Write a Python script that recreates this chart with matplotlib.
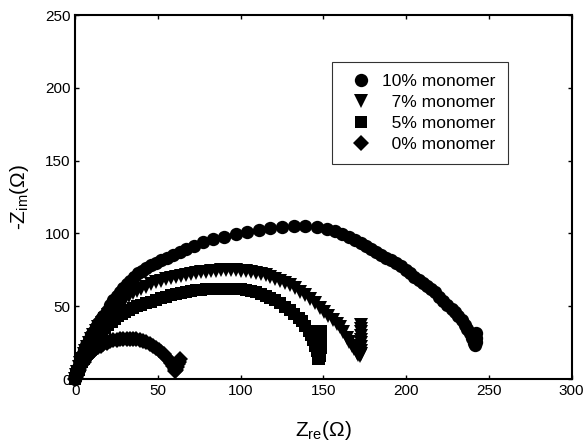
import matplotlib
matplotlib.use("Agg")
import matplotlib.pyplot as plt

plt.rcParams['font.family'] = ['Liberation Sans', 'DejaVu Sans']
plt.rcParams['mathtext.fontset'] = 'custom'
plt.rcParams['mathtext.rm'] = 'Liberation Sans'

# 10% monomer
x10 = [0, 0.5, 1, 2, 3, 4, 5, 6.5, 8, 9.5, 11, 12.5, 14, 15.5, 17, 19, 21, 23, 25, 27, 29, 31,
       33, 35.5, 38, 40.5, 43, 46, 49, 52, 55.5, 59, 63, 67, 72, 77.5, 83.5, 90, 97, 104, 111,
       118, 125, 132, 139, 146, 152, 157, 161.5, 165.5, 169, 172.5, 176, 179, 182, 185, 188,
       191, 194, 197, 200, 202.5, 205, 207.5, 210, 212.5, 215, 217.5, 220, 222.5, 225, 227.5,
       229.5, 231.5, 233.5, 235.5, 237, 238.5, 240, 241, 241.5, 242, 242.5, 242.5]
y10 = [0, 3, 6, 9.5, 13, 16.5, 20, 23.5, 27, 30, 32.5, 35.5, 38.5, 41, 43.5, 47, 50.5, 54, 57, 60,
       62.5, 65, 67.5, 70, 72.5, 74.5, 76.5, 78.5, 80, 81.5, 83.3, 85, 87, 89, 91.5, 93.8, 96,
       97.6, 99.3, 101, 102.4, 103.6, 104.5, 105.2, 105.3, 104.6, 103.3, 101.5, 99.8, 97.8,
       95.8, 93.6, 91.4, 89.4, 87.4, 85.4, 83.4, 81.4, 79.4, 77.3, 74.7, 72.5, 70.3, 68.1, 66,
       63.8, 61.7, 59.5, 56.6, 53.7, 50.9, 48, 45.7, 43.2, 40.2, 37.2, 34.5, 31.5, 28, 25,
       23.5, 25.5, 28.5, 31.5]

# 7% monomer
x7 = [0, 0.5, 1, 2, 3, 4, 5, 6, 7, 8, 9.5, 11, 12.5, 14, 16, 18, 20, 22, 24, 26, 28, 30, 32.5,
      35, 37.5, 40, 43, 46, 49, 52, 55, 58, 61, 64, 67, 70, 73, 76, 79, 82, 85, 88, 91, 94, 97,
      100, 103, 106, 109, 112, 115, 118, 121, 124, 127, 130, 133, 136, 139, 142, 145, 148,
      150.5, 153, 155.5, 158, 160, 162, 164, 165.5, 167, 168.5, 170, 171, 172, 172.5, 172.5,
      172.5, 172.5, 172.5, 172.5, 172.5, 172.5, 172.5]
y7 = [0, 2.5, 5, 8, 11, 14, 17, 19.5, 22, 24.5, 27.5, 30.5, 33, 35.5, 38.5, 41.5, 44, 46.5, 49,
      51, 53, 55, 57, 59, 60.5, 62, 63.5, 65, 66.3, 67.5, 68.5, 69.4, 70.2, 71, 71.7, 72.3,
      72.9, 73.4, 73.8, 74.2, 74.5, 74.7, 74.8, 74.8, 74.7, 74.5, 74.1, 73.6, 73, 72.2, 71.3,
      70.2, 69, 67.6, 66, 64.3, 62.3, 60, 57.5, 55, 52.2, 49, 46.2, 43.2, 40.3, 38, 35.5, 32,
      28.5, 25.5, 23, 20.5, 18, 16.5, 15.5, 17, 19.5, 22, 24.5, 27, 29.5, 32, 34.5, 37]

# 5% monomer
x5 = [0, 0.5, 1, 2, 3, 4, 5, 6, 7, 8, 9.5, 11, 12.5, 14, 16, 18, 20, 22, 24, 26, 28, 30, 32.5,
      35, 37.5, 40, 43, 46, 49, 52, 55, 58, 61, 64, 67, 70, 73, 76, 79, 82, 85, 88, 91, 94, 97,
      100, 103, 106, 109, 112, 115, 118, 121, 124, 127, 130, 132.5, 135, 137, 139, 141, 142.5,
      144, 145, 146, 146.5, 147, 147.5, 148, 148, 148.5, 148.5, 148.5, 148.5, 148.5, 148.5]
y5 = [0, 2, 4, 6.5, 9, 11.5, 14, 16, 18, 20, 22.5, 25, 27.5, 30, 32.5, 35, 37, 39, 41,
      43, 44.5, 46, 47.5, 48.8, 49.8, 50.7, 51.9, 53, 54.2, 55.5, 56.5, 57.5, 58.3, 59, 59.7,
      60.3, 60.8, 61.2, 61.5, 61.8, 62, 62.1, 62.1, 62, 61.8, 61.5, 61, 60.4, 59.6, 58.6,
      57.3, 55.8, 54, 52, 49.7, 47.2, 44.8, 42, 39.5, 36.5, 33, 30, 26.5, 23, 19.5, 16, 13.5,
      13.5, 16, 18.5, 21, 23.5, 26, 28.5, 31, 33]

# 0% monomer
x0 = [0, 0.5, 1, 1.5, 2, 3, 4, 5, 6, 7, 8, 9.5, 11, 12.5, 14, 15.5, 17, 19, 21, 23, 25, 27, 29,
      31, 33, 35, 37, 39, 41, 43, 45, 47, 49, 50.5, 52, 53.5, 55, 56.5, 58, 59, 60, 60.5, 61,
      61.5, 62, 62.5, 63]
y0 = [0, 1.5, 3, 4.5, 6, 8, 10, 12, 13.5, 15, 16.5, 18, 19.5, 21, 22, 23, 24, 25, 25.8, 26.5, 27,
      27.4, 27.7, 27.8, 27.8, 27.6, 27.3, 26.8, 26.1, 25.3, 24.3, 23, 21.5, 20.2, 18.7, 17,
      15.2, 13.2, 11, 9, 7, 5.5, 6, 8, 10, 12, 14]

labels = ['10% monomer', '\u20077% monomer', '\u20075% monomer', '\u20070% monomer']

fig = plt.figure(figsize=(5.85, 4.48), dpi=100)
ax = fig.add_axes([0.1287, 0.154, 0.8483, 0.8125])

ax.plot(x10, y10, 'o', color='black', ms=9.6, mew=0, label=labels[0], clip_on=False)
ax.plot(x7, y7, 'v', color='black', ms=10.5, mew=0, label=labels[1], clip_on=False)
ax.plot(x5, y5, 's', color='black', ms=9.2, mew=0, label=labels[2], clip_on=False)
ax.plot(x0, y0, 'D', color='black', ms=7.8, mew=0, label=labels[3], clip_on=False)

ax.set_xlim(0, 300)
ax.set_ylim(0, 250)
ax.set_xticks(range(0, 301, 50))
ax.set_yticks(range(0, 251, 50))
ax.tick_params(direction='in', length=3, width=1, top=True, right=True, labelsize=11)
for s in ax.spines.values():
    s.set_linewidth(1.5)

ax.set_xlabel('Z$_{\\rm re}$(\u03a9)', fontsize=15, labelpad=15)
ax.set_ylabel('-Z$_{\\rm im}$(\u03a9)', fontsize=15, labelpad=10)

leg = ax.legend(loc='upper left', bbox_to_anchor=(0.517, 0.871), fontsize=12.5,
                frameon=True, fancybox=False, edgecolor='black', borderpad=0.7,
                labelspacing=0.33, handletextpad=0.2, handlelength=2.0, borderaxespad=0)
leg.get_frame().set_linewidth(0.8)

plt.savefig('out.png', dpi=100)
